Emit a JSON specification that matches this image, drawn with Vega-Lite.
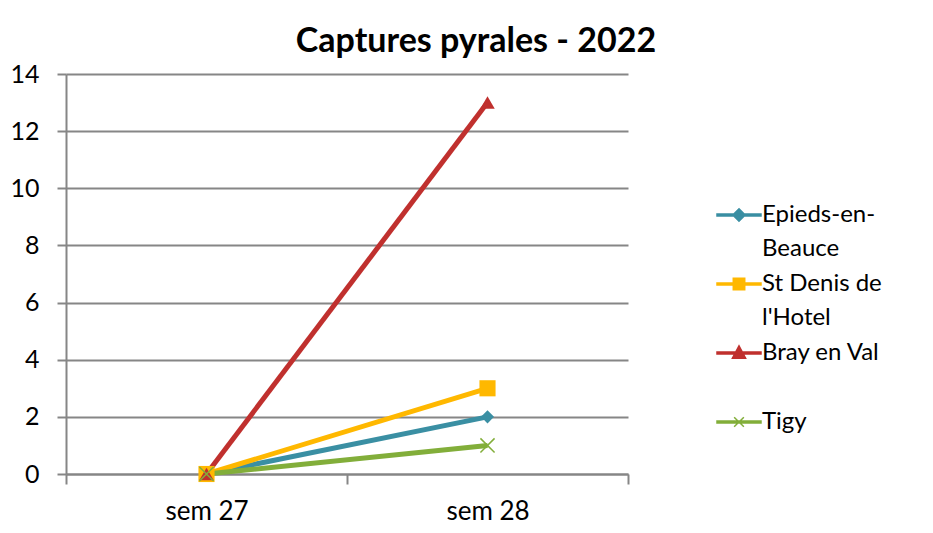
{
  "$schema": "https://vega.github.io/schema/vega-lite/v6.json",
  "width": 562,
  "height": 400,
  "autosize": {"type": "none"},
  "padding": {"left": 66, "top": 74, "right": 305, "bottom": 59},
  "background": "white",
  "title": {
    "text": "Captures pyrales - 2022",
    "font": "Lato",
    "fontSize": 34,
    "fontWeight": "bold",
    "color": "black",
    "anchor": "middle",
    "frame": "group",
    "dx": 129,
    "dy": 48,
    "baseline": "alphabetic",
    "offset": 24
  },
  "data": {
    "values": [
      {"site": "Epieds-en-Beauce", "week": "sem 27", "captures": 0},
      {"site": "Epieds-en-Beauce", "week": "sem 28", "captures": 2},
      {"site": "St Denis de l'Hotel", "week": "sem 27", "captures": 0},
      {"site": "St Denis de l'Hotel", "week": "sem 28", "captures": 3},
      {"site": "Bray en Val", "week": "sem 27", "captures": 0},
      {"site": "Bray en Val", "week": "sem 28", "captures": 13},
      {"site": "Tigy", "week": "sem 27", "captures": 0},
      {"site": "Tigy", "week": "sem 28", "captures": 1}
    ]
  },
  "encoding": {
    "x": {
      "field": "week",
      "type": "nominal",
      "bandPosition": 0.5,
      "scale": {"type": "band", "paddingInner": 0, "paddingOuter": 0},
      "axis": {
        "title": null,
        "labelAngle": 0,
        "labelFont": "Lato",
        "labelFontSize": 26,
        "labelColor": "black",
        "labelPadding": 14,
        "tickBand": "extent",
        "tickSize": 10,
        "tickColor": "#868686",
        "tickWidth": 2,
        "domainColor": "#868686",
        "domainWidth": 2,
        "grid": false
      }
    },
    "y": {
      "field": "captures",
      "type": "quantitative",
      "scale": {"domain": [0, 14], "nice": false},
      "axis": {
        "title": null,
        "values": [0, 2, 4, 6, 8, 10, 12, 14],
        "labelFont": "Lato",
        "labelFontSize": 25,
        "labelColor": "black",
        "labelPadding": 18,
        "tickSize": 9,
        "tickColor": "#868686",
        "tickWidth": 2,
        "domainColor": "#868686",
        "domainWidth": 2,
        "grid": true,
        "gridColor": "#868686",
        "gridWidth": 2
      }
    }
  },
  "layer": [
    {
      "mark": {"type": "line", "strokeWidth": 5},
      "encoding": {
        "order": {"field": "week"},
        "color": {
          "field": "site",
          "type": "nominal",
          "scale": {
            "domain": ["Epieds-en-Beauce", "St Denis de l'Hotel", "Bray en Val", "Tigy"],
            "range": ["#3A8FA3", "#FFB800", "#C0302E", "#82AE3A"]
          },
          "legend": {
            "title": null,
            "orient": "none",
            "legendX": 650,
            "legendY": 118,
            "labelFont": "Lato",
            "labelFontSize": 24,
            "labelColor": "black",
            "labelLimit": 400,
            "labelOffset": 0,
            "rowPadding": 0,
            "symbolSize": 1936,
            "labelExpr": "datum.label == 'Epieds-en-Beauce' ? ['Epieds-en-', 'Beauce'] : datum.label == \"St Denis de l'Hotel\" ? ['St Denis de', \"l'Hotel\"] : datum.label == 'Bray en Val' ? ['Bray en Val', ''] : datum.label",
            "encode": {
              "labels": {"update": {"lineHeight": {"value": 33.5}}},
              "symbols": {
                "update": {
                  "shape": {"signal": "datum.value == 'Epieds-en-Beauce' ? 'M-1,-0.05H1V0.05H-1Z M0,-0.28L0.28,0L0,0.28L-0.28,0Z' : datum.value == 'Bray en Val' ? 'M-1,-0.05H1V0.05H-1Z M0,-0.32L0.3,0.24H-0.3Z' : datum.value == 'Tigy' ? 'M-1,-0.05H1V0.05H-1Z M-0.22,-0.22L0.22,0.22M-0.22,0.22L0.22,-0.22' : 'M-1,-0.05H1V0.05H-1Z M-0.26,-0.26H0.26V0.26H-0.26Z'"},
                  "fill": {"scale": "color", "field": "value"},
                  "stroke": {"scale": "color", "field": "value"},
                  "strokeWidth": {"value": 1.5},
                  "size": {"value": 1936},
                  "opacity": {"value": 1}
                }
              }
            }
          }
        }
      }
    },
    {
      "transform": [{"filter": "datum.site == 'Epieds-en-Beauce'"}],
      "mark": {"type": "point", "shape": "diamond", "filled": true, "size": 170, "color": "#3A8FA3", "opacity": 1}
    },
    {
      "transform": [{"filter": "datum.site == \"St Denis de l'Hotel\""}],
      "mark": {"type": "point", "shape": "square", "filled": true, "size": 260, "color": "#FFB800", "opacity": 1}
    },
    {
      "transform": [{"filter": "datum.site == 'Bray en Val'"}],
      "mark": {"type": "point", "shape": "triangle-up", "filled": true, "size": 210, "color": "#C0302E", "opacity": 1}
    },
    {
      "transform": [{"filter": "datum.site == 'Tigy'"}],
      "mark": {"type": "point", "shape": "M-1,-1L1,1M-1,1L1,-1", "filled": false, "size": 200, "color": "#82AE3A", "strokeWidth": 1.5, "opacity": 1}
    }
  ],
  "config": {
    "view": {"stroke": null},
    "font": "Lato"
  }
}
